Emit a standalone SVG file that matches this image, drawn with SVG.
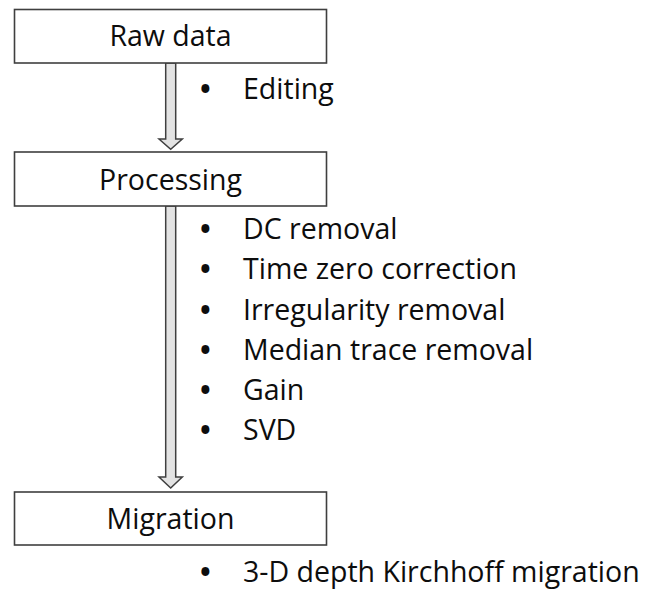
<svg xmlns="http://www.w3.org/2000/svg" width="645" height="595" viewBox="0 0 645 595">
<style>
.box{fill:#ffffff;stroke:#3f3f3f;stroke-width:1.6}
.arr{fill:#e3e3e3;stroke:#3f3f3f;stroke-width:1.5;stroke-linejoin:miter}
text{font-family:"Open Sans","Liberation Sans",sans-serif;font-size:28.5px;fill:#0d0d0d}
.lbl{text-anchor:middle}
.bul{font-weight:bold}
</style>
<rect width="645" height="595" fill="#ffffff"/>
<g id="connectors">
<path class="arr" d="M165.7,63 L175.7,63 L175.7,139 L182.3,139 L170.7,149.3 L159,139 L165.7,139 Z"/>
<path class="arr" d="M165.7,206 L175.7,206 L175.7,477 L182.3,477 L170.7,488 L159,477 L165.7,477 Z"/>
</g>
<g id="node-raw">
<rect class="box" x="14.5" y="9.5" width="312" height="53.5"/>
<text class="lbl" x="170.5" y="46">Raw data</text>
</g>
<g id="node-processing">
<rect class="box" x="14.5" y="152" width="312" height="54"/>
<text class="lbl" x="170.5" y="190">Processing</text>
</g>
<g id="node-migration">
<rect class="box" x="14.5" y="492" width="312" height="53"/>
<text class="lbl" x="170.5" y="529">Migration</text>
</g>
<g id="notes">
<text y="99"><tspan class="bul" x="200">•</tspan><tspan x="243">Editing</tspan></text>
<text y="239"><tspan class="bul" x="200">•</tspan><tspan x="243">DC removal</tspan></text>
<text y="279"><tspan class="bul" x="200">•</tspan><tspan x="243">Time zero correction</tspan></text>
<text y="320"><tspan class="bul" x="200">•</tspan><tspan x="243">Irregularity removal</tspan></text>
<text y="360"><tspan class="bul" x="200">•</tspan><tspan x="243">Median trace removal</tspan></text>
<text y="400"><tspan class="bul" x="200">•</tspan><tspan x="243">Gain</tspan></text>
<text y="440"><tspan class="bul" x="200">•</tspan><tspan x="243">SVD</tspan></text>
<text y="582"><tspan class="bul" x="200">•</tspan><tspan x="243">3-D depth Kirchhoff migration</tspan></text>
</g>
</svg>
